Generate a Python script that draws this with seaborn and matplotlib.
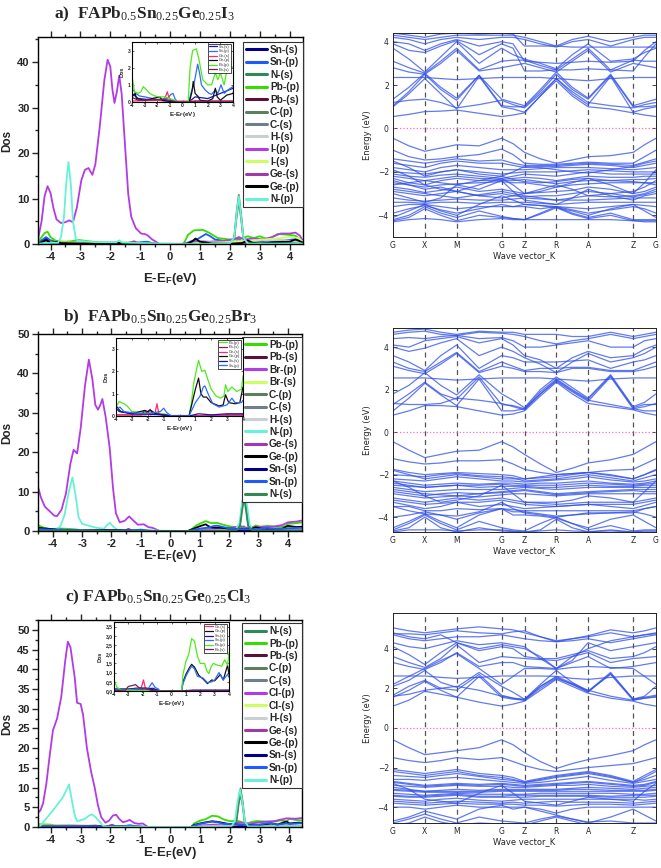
import numpy as np
import pandas as pd
import matplotlib
matplotlib.use("Agg")
import matplotlib.pyplot as plt
import seaborn as sns
from matplotlib.ticker import MultipleLocator, FuncFormatter

sns.set_theme(style="ticks")
plt.rcParams["font.family"] = ["Liberation Sans", "DejaVu Sans"]
plt.rcParams["mathtext.fontset"] = "custom"
plt.rcParams["mathtext.rm"] = "Liberation Serif"
plt.rcParams["mathtext.sf"] = "Liberation Sans:bold"
plt.rcParams["mathtext.default"] = "rm"

# ---------------- DOS data: (E - EF, DOS) pairs ----------------
# a) iodide
A_IP = [(-4.42,1.0),(-4.3,5),(-4.2,10.5),(-4.1,12.7),(-4.0,11.2),(-3.9,7.8),(-3.8,5.4),(-3.65,4.6),(-3.5,4.8),(-3.38,5.2),(-3.25,4.8),(-3.12,8),(-2.97,14),(-2.85,16.3),(-2.73,16.7),(-2.6,15.2),(-2.5,17.5),(-2.35,26),(-2.2,36),(-2.09,40.5),(-2.0,39),(-1.93,34),(-1.86,31),(-1.78,33.5),(-1.7,37),(-1.62,33),(-1.5,21),(-1.4,11),(-1.3,6),(-1.15,3.5),(-0.97,2.3),(-0.85,2.2),(-0.75,1.9),(-0.6,1.0),(-0.47,0.5),(-0.36,0.0),(0.4,0.0),(0.7,0.4),(1.0,0.6),(1.3,0.5),(1.8,0.7),(2.1,1.0),(2.3,1.5),(2.5,1.0),(2.8,1.2),(3.1,1.0),(3.4,1.5),(3.7,2.3),(4.0,2.3),(4.2,2.5),(4.35,1.8),(4.45,0.6)]
A_NP = [(-4.42,0.1),(-3.75,0.3),(-3.65,1.5),(-3.55,6),(-3.48,13),(-3.4,18),(-3.32,13),(-3.25,5),(-3.15,1.0),(-3.05,0.7),(-2.5,0.4),(-1.8,0.4),(-1.7,0.8),(-1.6,0.3),(-0.4,0.1),(0.4,0.0),(2.0,0.1),(2.15,1.5),(2.22,6),(2.3,10.5),(2.38,6),(2.45,1.5),(2.6,0.1),(4.45,0.1)]
A_PBP = [(-4.42,0.5),(-4.3,1.5),(-4.2,2.4),(-4.1,2.7),(-4.0,1.5),(-3.8,0.6),(-3.5,0.5),(-3.3,0.6),(-3.1,0.9),(-2.9,0.75),(-2.6,0.5),(-2.2,0.35),(-1.8,0.3),(-1.4,0.3),(-1.0,0.2),(-0.6,0.1),(-0.4,0.0),(0.45,0.0),(0.6,2.0),(0.8,3.0),(1.1,3.1),(1.3,2.5),(1.6,1.3),(2.0,1.0),(2.3,1.0),(2.6,1.7),(2.8,1.3),(3.0,1.7),(3.3,1.0),(3.6,2.2),(4.0,2.0),(4.2,1.8),(4.45,0.5)]
A_SNP = [(-4.42,0.3),(-4.15,1.5),(-4.0,0.8),(-3.7,0.5),(-3.4,0.35),(-3.0,0.3),(-2.0,0.15),(-1.2,0.2),(-0.9,0.45),(-0.75,0.5),(-0.6,0.2),(-0.4,0.0),(0.5,0.0),(0.7,0.6),(0.9,1.0),(1.05,1.6),(1.2,2.2),(1.35,1.7),(1.5,1.0),(1.8,0.7),(2.1,0.5),(2.3,0.45),(2.6,0.7),(2.8,0.5),(3.05,1.0),(3.3,0.5),(3.6,0.7),(4.0,0.9),(4.2,1.1),(4.45,0.4)]
A_SNS = [(-4.42,0.2),(-4.15,1.2),(-4.0,0.5),(-3.5,0.2),(-2.0,0.1),(-0.4,0.0),(0.5,0.0),(1.0,0.3),(2.0,0.2),(3.0,0.5),(4.0,0.8),(4.45,0.3)]
A_GEP = [(-4.42,0.1),(-4.15,0.8),(-4.0,0.3),(-3.75,0.5),(-3.65,0.2),(-3.0,0.1),(-1.8,0.3),(-1.6,0.1),(-0.4,0.0),(0.55,0.0),(0.75,0.6),(0.85,1.2),(1.0,0.5),(1.2,0.35),(1.4,0.1),(2.0,0.05),(2.4,0.2),(2.6,0.8),(2.75,0.3),(3.0,0.1),(3.5,0.4),(4.0,0.5),(4.2,1.0),(4.45,0.3)]
A_GES = [(-4.42,0.05),(-1.5,0.1),(-1.3,0.4),(-1.2,0.6),(-1.1,0.3),(-0.9,0.05),(4.45,0.05)]
A_PBS = [(-4.42,0.1),(-4.1,0.3),(-3.5,0.1),(-1.5,0.15),(-1.0,0.1),(-0.4,0.0),(0.5,0.0),(1.0,0.05),(4.45,0.05)]
A_CP = [(-4.42,0.2),(-4.1,0.4),(-3.4,0.3),(-0.4,0.0),(0.5,0.0),(2.0,0.1),(2.15,1.5),(2.22,6.5),(2.3,10.8),(2.38,6.5),(2.45,1.5),(2.6,0.1),(4.45,0.1)]
A_NS = [(-4.42,0.1),(-0.4,0.0),(0.5,0.0),(2.0,0.1),(2.15,1.3),(2.22,5.5),(2.3,9.5),(2.38,5.5),(2.45,1.3),(2.6,0.1),(4.45,0.1)]
A_CS = [(-4.42,0.1),(-0.4,0.0),(0.5,0.0),(2.2,0.1),(2.3,1.5),(2.4,0.1),(3.5,0.3),(4.45,0.2)]
A_HS = [(-4.42,0.05),(-3.4,0.3),(-0.4,0.0),(0.5,0.0),(2.3,0.6),(3.8,0.9),(4.45,0.3)]
A_IS = [(-4.42,0.2),(-4.1,0.5),(-3.0,0.2),(-0.4,0.0),(0.5,0.0),(1.0,0.3),(2.0,0.4),(2.8,0.8),(3.5,1.2),(4.0,1.5),(4.3,1.3),(4.45,0.5)]

# b) bromide
B_BRP = [(-4.5,11.2),(-4.4,8.5),(-4.27,6.2),(-4.1,5.0),(-3.95,3.9),(-3.85,3.8),(-3.7,5.4),(-3.55,9.5),(-3.4,17),(-3.29,20.6),(-3.17,19.7),(-3.05,26),(-2.9,37),(-2.77,43.5),(-2.65,38.5),(-2.55,32),(-2.46,30.8),(-2.38,32),(-2.31,33.5),(-2.2,29),(-2.06,21),(-1.95,11),(-1.85,4.5),(-1.72,2.2),(-1.55,2.6),(-1.4,3.7),(-1.25,2.6),(-1.1,1.6),(-0.9,1.7),(-0.75,1.0),(-0.6,0.8),(-0.45,0.3),(-0.36,0.0),(0.6,0.0),(0.9,0.3),(1.5,0.6),(2.0,0.7),(2.4,1.2),(2.6,0.8),(3.0,1.0),(3.5,1.1),(3.8,1.5),(4.0,2.2),(4.3,2.4),(4.5,2.7)]
B_NP = [(-4.5,0.3),(-3.9,0.3),(-3.75,1.0),(-3.6,4.0),(-3.45,10),(-3.33,13.6),(-3.22,9),(-3.12,3.5),(-3.0,1.8),(-2.8,1.4),(-2.5,0.8),(-2.25,0.6),(-2.15,1.5),(-2.06,2.1),(-1.95,1.2),(-1.8,0.3),(-0.4,0.1),(0.5,0.0),(2.2,0.1),(2.35,2.0),(2.45,7.5),(2.53,10),(2.6,7),(2.7,1.5),(2.85,0.1),(4.5,0.1)]
B_PBP = [(-4.5,1.5),(-4.3,0.8),(-4.0,0.4),(-3.8,0.65),(-3.5,0.55),(-3.3,0.45),(-3.0,0.2),(-2.0,0.15),(-1.0,0.1),(-0.5,0.0),(0.6,0.0),(0.75,0.6),(0.9,1.5),(1.05,2.0),(1.2,2.5),(1.4,2.0),(1.6,2.05),(1.8,1.6),(2.0,1.2),(2.3,0.9),(2.6,0.8),(2.8,0.9),(2.9,1.4),(3.05,1.1),(3.3,1.3),(3.6,1.1),(3.9,1.2),(4.0,1.8),(4.3,2.0),(4.5,2.2)]
B_GEP = [(-4.5,0.8),(-4.0,0.45),(-3.7,0.2),(-3.0,0.1),(-2.2,0.25),(-2.0,0.2),(-1.8,0.25),(-1.5,0.1),(-0.5,0.0),(0.6,0.0),(0.8,0.6),(1.0,1.2),(1.2,1.7),(1.35,1.0),(1.5,0.85),(1.7,0.85),(2.0,0.6),(2.5,0.45),(2.75,0.5),(2.9,0.95),(3.1,0.6),(3.5,0.55),(3.8,0.6),(4.0,1.3),(4.3,1.0),(4.5,1.1)]
B_SNP = [(-4.5,0.5),(-4.0,0.3),(-3.75,0.4),(-3.5,0.2),(-3.0,0.15),(-2.0,0.1),(-1.2,0.2),(-1.0,0.35),(-0.8,0.15),(-0.5,0.0),(0.6,0.0),(0.8,0.3),(1.0,0.6),(1.3,0.9),(1.5,1.3),(1.6,1.35),(1.8,1.0),(2.1,0.55),(2.5,0.4),(3.0,0.5),(3.3,0.8),(3.5,0.6),(3.9,0.6),(4.0,0.7),(4.5,0.8)]
B_SNS = [(-4.5,0.6),(-4.0,0.35),(-3.8,0.2),(-3.0,0.1),(-1.0,0.05),(-0.5,0.0),(0.6,0.0),(1.2,0.1),(2.0,0.05),(3.0,0.1),(4.5,0.1)]
B_GES = [(-4.5,0.05),(-2.1,0.05),(-2.0,0.2),(-1.85,0.05),(-1.55,0.1),(-1.42,0.55),(-1.3,0.1),(-1.0,0.02),(4.5,0.02)]
B_PBS = [(-4.5,0.05),(-2.4,0.05),(-2.2,0.25),(-2.05,0.15),(-1.85,0.3),(-1.7,0.1),(-0.5,0.0),(0.6,0.0),(3.0,0.05),(4.5,0.05)]
B_BRS = [(-4.5,0.3),(-3.5,0.2),(-0.5,0.0),(0.6,0.0),(2.0,0.3),(3.5,0.6),(4.5,0.9)]
B_CP = [(-4.5,0.3),(-3.3,0.3),(-0.5,0.0),(0.6,0.0),(2.25,0.1),(2.37,1.5),(2.44,6.5),(2.51,10.3),(2.58,6.5),(2.65,1.5),(2.8,0.1),(4.5,0.1)]
B_NS = [(-4.5,0.1),(-0.5,0.0),(0.6,0.0),(2.25,0.1),(2.37,1.2),(2.44,5),(2.51,8.5),(2.58,5),(2.65,1.2),(2.8,0.1),(4.5,0.1)]
B_CS = [(-4.5,0.1),(-0.5,0.0),(0.6,0.0),(2.4,0.1),(2.5,1.2),(2.6,0.1),(4.5,0.3)]
B_HS = [(-4.5,0.1),(-3.3,0.3),(-0.5,0.0),(0.6,0.0),(2.5,0.5),(4.5,0.4)]

# c) chloride
C_CLP = [(-4.45,3.5),(-4.35,4.2),(-4.26,6),(-4.15,11),(-4.04,18),(-3.93,24.5),(-3.79,27.5),(-3.65,33),(-3.52,42),(-3.43,47),(-3.34,45.5),(-3.2,38),(-3.12,31.5),(-3.0,31.2),(-2.92,28.5),(-2.79,20),(-2.65,14),(-2.53,10),(-2.42,5.5),(-2.31,2.5),(-2.17,1.1),(-2.05,1.6),(-1.92,2.9),(-1.81,3.1),(-1.7,2.0),(-1.58,1.2),(-1.45,1.5),(-1.36,1.8),(-1.2,1.0),(-1.05,0.8),(-0.92,0.9),(-0.82,0.4),(-0.75,0.0),(0.75,0.0),(1.0,0.4),(1.5,0.6),(2.0,0.7),(2.3,1.1),(2.6,0.8),(3.0,1.2),(3.5,1.5),(3.9,2.2),(4.2,2.1),(4.45,2.3)]
C_NP = [(-4.45,0.0),(-4.35,0.3),(-4.15,2.2),(-3.95,4.0),(-3.82,5.3),(-3.6,7.5),(-3.47,9.5),(-3.39,10.8),(-3.3,7),(-3.2,3.0),(-3.12,1.5),(-3.0,1.7),(-2.87,2.0),(-2.72,2.9),(-2.62,3.2),(-2.5,2.5),(-2.38,1.5),(-2.25,0.3),(-2.1,0.1),(-0.8,0.05),(0.7,0.0),(2.05,0.1),(2.17,1.5),(2.26,6.5),(2.34,9.5),(2.42,6.5),(2.5,1.5),(2.62,0.1),(4.45,0.1)]
C_PBP = [(-4.45,0.7),(-4.0,0.6),(-3.8,0.2),(-3.5,0.05),(-2.0,0.03),(-0.8,0.0),(0.7,0.0),(0.8,0.9),(1.0,1.6),(1.2,2.0),(1.4,2.85),(1.6,2.7),(1.8,1.9),(2.0,1.5),(2.3,1.5),(2.45,1.1),(2.6,0.95),(2.75,1.3),(2.9,1.5),(3.2,1.4),(3.5,1.35),(3.7,1.7),(3.9,1.4),(4.0,2.1),(4.2,1.8),(4.45,1.6)]
C_GEP = [(-4.45,0.1),(-3.0,0.1),(-2.5,0.15),(-1.8,0.15),(-1.5,0.1),(-0.8,0.0),(0.7,0.0),(0.8,0.5),(1.0,0.9),(1.2,1.2),(1.4,1.45),(1.6,1.3),(1.9,0.85),(2.2,0.65),(2.5,0.4),(2.8,0.6),(3.0,0.55),(3.4,0.9),(3.6,0.6),(3.9,1.4),(4.0,0.9),(4.3,1.1),(4.45,1.0)]
C_SNP = [(-4.45,0.15),(-4.0,0.1),(-3.0,0.08),(-1.6,0.15),(-1.35,0.45),(-1.15,0.2),(-0.9,0.1),(-0.8,0.0),(0.7,0.0),(0.8,0.4),(1.0,0.8),(1.2,1.1),(1.4,1.35),(1.6,1.2),(1.8,0.8),(2.2,0.7),(2.5,0.45),(2.8,0.5),(3.0,0.6),(3.3,1.0),(3.6,0.6),(3.9,0.9),(4.0,0.75),(4.45,1.0)]
C_SNS = [(-4.45,0.12),(-4.0,0.1),(-2.0,0.1),(-1.3,0.15),(-0.8,0.0),(0.7,0.0),(1.5,0.05),(3.0,0.05),(4.45,0.05)]
C_GES = [(-4.45,0.02),(-2.15,0.05),(-1.95,0.6),(-1.8,0.1),(-1.5,0.02),(4.45,0.02)]
C_PBS = [(-4.45,0.02),(-3.2,0.05),(-3.0,0.25),(-2.7,0.3),(-2.5,0.35),(-2.3,0.2),(-2.1,0.15),(-1.7,0.15),(-1.5,0.05),(-0.8,0.0),(4.45,0.03)]
C_CLS = [(-4.45,0.4),(-3.5,0.3),(-0.8,0.0),(0.7,0.0),(2.0,0.3),(3.5,0.8),(4.45,1.0)]
C_CP = [(-4.45,0.3),(-3.4,0.4),(-0.8,0.0),(0.7,0.0),(2.1,0.1),(2.22,1.5),(2.29,6.5),(2.36,9.8),(2.43,6.5),(2.5,1.5),(2.62,0.1),(4.45,0.1)]
C_NS = [(-4.45,0.1),(-0.8,0.0),(0.7,0.0),(2.1,0.1),(2.22,1.2),(2.29,5.5),(2.36,8.5),(2.43,5.5),(2.5,1.2),(2.62,0.1),(4.45,0.1)]
C_CS = [(-4.45,0.1),(-0.8,0.0),(0.7,0.0),(2.25,0.1),(2.36,1.2),(2.47,0.1),(4.45,0.3)]
C_HS = [(-4.45,0.1),(-3.4,0.3),(-0.8,0.0),(0.7,0.0),(2.36,0.6),(4.45,0.4)]

# ---------------- band data: energies at G, mid, X, mid, M, mid, G, mid, Z, mid, R, mid, A, mid, Z, mid, G ----------------
K_SEG = [1.0, 1.0, 1.414, 0.72, 1.0, 1.0, 1.414, 0.72]
K_LABELS = ["G", "X", "M", "G", "Z", "R", "A", "Z", "G"]

BAND_A = [
    [0.55,0.65,0.78,0.8,0.85,0.7,0.55,0.62,0.72,1.5,2.2,1.5,1.0,0.9,0.72,0.62,0.55],
    [1.0,1.6,2.3,1.6,0.9,2.4,1.0,0.9,0.75,1.5,2.3,1.6,1.1,2.4,0.75,0.9,1.0],
    [1.05,1.7,2.5,1.8,1.3,2.45,1.05,1.0,1.0,1.7,2.5,1.8,1.35,2.45,1.0,1.0,1.05],
    [1.35,1.9,2.55,1.9,1.4,2.45,1.35,1.2,1.05,1.8,2.6,1.9,1.4,2.5,1.05,1.2,1.35],
    [1.2,1.3,1.35,1.2,0.95,1.1,1.3,1.1,0.95,1.6,2.3,1.7,1.2,1.05,0.95,1.1,1.2],
    [2.35,2.35,2.35,2.3,2.25,2.3,2.35,2.35,2.35,2.35,2.3,2.25,2.2,2.3,2.35,2.35,2.35],
    [2.8,2.6,2.5,3.0,3.6,2.65,2.8,2.9,3.0,2.8,2.6,3.1,3.6,2.6,3.0,2.9,2.8],
    [3.1,2.8,2.55,3.1,3.7,2.7,3.1,3.15,3.15,2.9,2.7,3.2,3.7,2.7,3.15,3.1,3.1],
    [3.7,3.2,2.6,3.3,4.0,3.0,3.7,3.4,3.2,3.0,2.75,3.4,3.9,3.1,3.2,3.5,3.7],
    [3.9,3.6,3.5,3.8,4.05,3.4,3.9,3.7,2.65,2.65,2.7,2.7,2.75,2.7,2.65,3.3,3.9],
    [4.0,3.9,3.6,3.9,4.1,3.8,4.0,3.9,3.1,3.05,3.0,3.05,3.1,3.05,3.1,3.6,4.0],
    [4.2,4.1,3.9,4.1,4.2,4.1,4.2,4.2,4.1,3.9,3.75,4.0,4.1,3.8,4.1,4.2,4.2],
    [4.3,4.2,4.1,4.2,4.3,4.3,4.3,4.3,4.2,4.0,3.8,4.1,4.25,4.0,4.2,4.3,4.3],
    [4.4,4.3,4.2,4.35,4.4,4.35,4.4,4.35,3.8,3.8,3.8,3.75,3.75,3.75,3.75,3.75,3.75],
    [-0.45,-0.8,-1.05,-0.9,-0.75,-0.8,-0.45,-0.7,-1.1,-1.4,-1.6,-1.45,-1.3,-1.25,-1.1,-0.75,-0.45],
    [-1.0,-1.3,-1.45,-1.4,-1.3,-1.2,-0.95,-1.2,-1.6,-1.65,-1.65,-1.6,-1.55,-1.6,-1.6,-1.3,-1.0],
    [-1.4,-1.5,-1.6,-1.5,-1.4,-1.5,-1.45,-1.6,-1.7,-1.7,-1.7,-1.65,-1.6,-1.65,-1.7,-1.55,-1.4],
    [-1.6,-1.7,-1.8,-1.6,-1.5,-1.6,-1.6,-1.7,-1.8,-1.75,-1.75,-1.7,-1.65,-1.7,-1.8,-1.7,-1.6],
    [-1.8,-1.9,-2.0,-1.8,-1.7,-1.8,-1.9,-1.9,-1.9,-1.85,-1.8,-1.8,-1.8,-1.85,-1.9,-1.85,-1.8],
    [-1.5,-1.8,-2.2,-2.0,-1.9,-2.1,-2.2,-2.0,-1.75,-1.8,-1.9,-2.0,-2.05,-1.9,-1.75,-1.6,-1.5],
    [-2.0,-2.05,-2.1,-2.0,-1.9,-2.0,-2.1,-2.05,-2.0,-2.0,-2.0,-1.95,-1.9,-1.95,-2.0,-2.0,-2.0],
    [-2.1,-2.2,-2.25,-2.15,-2.1,-2.2,-2.3,-2.2,-2.1,-2.15,-2.2,-2.1,-2.0,-2.1,-2.1,-2.1,-2.1],
    [-2.2,-2.3,-2.4,-2.3,-2.2,-2.3,-2.35,-2.3,-2.25,-2.3,-2.4,-2.3,-2.2,-2.25,-2.25,-2.2,-2.2],
    [-2.3,-2.5,-2.6,-2.4,-2.3,-2.4,-2.4,-2.4,-2.35,-2.45,-2.55,-2.45,-2.4,-2.4,-2.35,-2.35,-2.3],
    [-2.5,-2.6,-2.7,-2.6,-2.55,-2.5,-2.45,-2.5,-2.5,-2.6,-2.7,-2.6,-2.55,-2.5,-2.5,-2.5,-2.5],
    [-2.6,-2.5,-2.4,-2.5,-2.6,-2.4,-2.2,-2.35,-2.45,-2.5,-2.45,-2.35,-2.3,-2.4,-2.45,-2.5,-2.6],
    [-2.7,-2.8,-2.95,-2.85,-2.7,-2.9,-2.8,-2.9,-3.0,-2.95,-2.9,-2.85,-2.7,-2.8,-3.0,-2.9,-2.7],
    [-2.9,-3.0,-3.1,-3.0,-2.9,-3.1,-3.0,-3.1,-3.15,-3.1,-3.1,-3.0,-2.9,-3.0,-3.15,-3.05,-2.9],
    [-2.8,-2.9,-3.0,-3.1,-3.2,-3.05,-2.9,-3.0,-3.1,-3.2,-3.3,-3.2,-3.1,-3.15,-3.1,-3.0,-2.8],
    [-3.0,-3.2,-3.4,-3.2,-2.6,-2.8,-2.4,-2.9,-3.3,-3.4,-3.5,-3.2,-2.8,-3.1,-3.3,-3.1,-3.0],
    [-1.9,-2.2,-2.6,-2.8,-2.9,-2.6,-2.3,-2.6,-3.0,-2.9,-2.7,-2.5,-2.3,-2.6,-3.0,-2.5,-1.9],
    [-2.4,-2.6,-2.8,-2.7,-2.9,-3.1,-3.2,-3.1,-3.0,-2.8,-2.6,-2.8,-3.1,-3.0,-2.9,-2.7,-2.4],
    [-3.2,-3.3,-3.35,-3.3,-3.25,-3.3,-3.3,-3.25,-3.2,-3.25,-3.3,-3.3,-3.3,-3.25,-3.2,-3.2,-3.2],
    [-3.4,-3.4,-3.45,-3.4,-3.4,-3.45,-3.4,-3.4,-3.4,-3.45,-3.5,-3.45,-3.4,-3.4,-3.4,-3.4,-3.4],
    [-3.6,-3.5,-3.5,-3.6,-3.7,-3.6,-3.6,-3.6,-3.5,-3.55,-3.6,-3.65,-3.7,-3.6,-3.5,-3.55,-3.6],
    [-3.9,-3.7,-3.55,-3.75,-3.9,-3.7,-3.5,-3.6,-3.6,-3.7,-3.6,-3.75,-3.9,-3.75,-3.6,-3.7,-3.9],
    [-4.1,-3.8,-3.5,-3.8,-4.0,-3.5,-3.1,-3.3,-3.5,-3.55,-3.65,-3.8,-4.0,-3.7,-3.5,-3.8,-4.1],
    [-4.2,-4.0,-3.6,-3.9,-4.1,-3.8,-4.05,-4.15,-4.2,-3.9,-3.6,-3.9,-4.1,-3.9,-4.2,-4.2,-4.2],
    [-4.3,-4.2,-4.15,-4.2,-4.3,-4.2,-4.15,-4.2,-4.2,-4.2,-4.2,-4.2,-4.2,-4.2,-4.25,-4.3,-4.3],
    [-4.25,-4.1,-3.7,-4.0,-4.25,-4.0,-4.1,-4.15,-4.2,-3.95,-3.65,-3.95,-4.15,-4.0,-4.25,-4.25,-4.25],
]

BAND_B = [
    [0.8,1.0,1.25,1.25,1.2,1.0,0.8,0.85,1.0,1.7,2.35,1.8,1.35,1.2,1.05,0.9,0.8],
    [1.0,1.6,2.3,1.75,1.25,2.5,1.0,1.0,1.1,1.8,2.4,1.9,1.45,2.6,1.1,1.0,1.0],
    [1.3,1.8,2.35,1.8,1.55,2.6,1.3,1.25,1.1,1.9,2.5,2.0,1.55,2.65,1.15,1.3,1.3],
    [1.35,1.3,1.3,1.35,1.6,1.5,1.35,1.2,1.05,1.8,2.45,1.95,1.5,1.3,1.1,1.2,1.35],
    [1.8,2.2,2.8,2.2,1.75,2.7,1.8,1.5,1.15,2.0,2.6,2.1,1.6,2.7,1.2,1.4,1.8],
    [2.55,2.55,2.55,2.5,2.45,2.5,2.55,2.55,2.55,2.55,2.5,2.45,2.4,2.5,2.55,2.55,2.55],
    [3.1,2.9,2.75,3.2,3.7,2.8,3.1,3.0,2.85,2.85,2.8,3.0,3.0,2.85,2.85,2.95,3.1],
    [3.3,3.0,2.85,3.3,3.75,2.85,3.3,3.1,2.9,3.0,3.0,3.05,3.05,2.9,2.9,3.1,3.3],
    [3.6,3.3,2.9,3.6,4.1,3.0,3.6,3.5,3.3,3.3,3.3,3.35,3.4,3.0,3.3,3.4,3.6],
    [4.0,3.8,3.95,4.2,4.4,3.6,4.0,3.8,3.5,3.2,2.8,3.3,3.7,3.3,3.5,3.7,4.0],
    [4.1,4.0,4.3,4.4,4.5,4.2,4.4,4.1,3.6,3.4,3.0,3.5,3.8,3.5,3.6,3.9,4.1],
    [4.4,4.45,4.4,4.5,4.55,4.4,4.45,4.3,4.0,4.0,4.1,4.2,4.3,4.0,4.0,4.3,4.4],
    [4.6,4.7,4.75,4.6,4.55,4.7,4.65,4.6,4.5,4.3,4.15,4.3,4.4,4.6,4.4,4.5,4.6],
    [4.7,4.8,4.85,4.7,4.6,4.75,4.7,4.7,4.6,4.6,4.6,4.5,4.5,4.7,4.5,4.6,4.7],
    [-0.45,-0.85,-1.2,-1.05,-0.9,-0.85,-0.45,-0.7,-1.05,-1.5,-1.9,-1.7,-1.45,-1.3,-1.05,-0.75,-0.45],
    [-1.25,-1.4,-1.5,-1.45,-1.35,-1.35,-1.3,-1.5,-1.75,-1.9,-2.0,-1.95,-1.9,-1.8,-1.75,-1.5,-1.25],
    [-1.75,-1.9,-2.0,-1.95,-1.9,-1.95,-2.0,-2.05,-2.2,-2.15,-2.1,-2.0,-1.9,-2.05,-2.2,-2.0,-1.75],
    [-1.8,-2.0,-2.2,-2.1,-2.0,-2.1,-2.2,-2.2,-2.2,-2.1,-2.0,-1.95,-1.9,-2.0,-2.2,-2.0,-1.8],
    [-2.0,-2.05,-2.1,-2.0,-1.95,-2.05,-2.1,-2.15,-2.3,-2.25,-2.2,-2.1,-2.0,-2.15,-2.3,-2.15,-2.0],
    [-2.2,-2.25,-2.3,-2.2,-2.1,-2.2,-2.3,-2.3,-2.35,-2.3,-2.25,-2.2,-2.1,-2.25,-2.35,-2.3,-2.2],
    [-2.3,-2.4,-2.5,-2.45,-2.4,-2.45,-2.4,-2.4,-2.45,-2.4,-2.4,-2.35,-2.3,-2.4,-2.45,-2.4,-2.3],
    [-2.4,-2.5,-2.6,-2.55,-2.5,-2.5,-2.45,-2.5,-2.5,-2.5,-2.5,-2.45,-2.4,-2.45,-2.5,-2.45,-2.4],
    [-2.5,-2.55,-2.6,-2.55,-2.5,-2.6,-2.55,-2.55,-2.55,-2.6,-2.6,-2.55,-2.5,-2.55,-2.55,-2.5,-2.5],
    [-2.6,-2.7,-2.8,-2.75,-2.7,-2.7,-2.7,-2.65,-2.6,-2.65,-2.7,-2.65,-2.6,-2.6,-2.6,-2.6,-2.6],
    [-2.7,-2.8,-2.9,-2.95,-3.0,-2.9,-2.8,-2.75,-2.7,-2.8,-2.9,-2.85,-2.8,-2.75,-2.7,-2.7,-2.7],
    [-2.8,-2.9,-3.0,-2.9,-2.85,-2.9,-2.85,-2.8,-2.75,-2.85,-2.95,-2.9,-2.85,-2.8,-2.75,-2.8,-2.8],
    [-2.9,-3.0,-3.1,-3.05,-3.0,-3.05,-2.95,-2.9,-2.9,-2.95,-3.0,-2.95,-2.9,-2.9,-2.9,-2.9,-2.9],
    [-2.3,-2.6,-3.0,-3.3,-3.2,-3.0,-2.5,-2.9,-3.3,-3.3,-3.3,-3.2,-3.0,-3.1,-3.3,-2.8,-2.3],
    [-3.1,-3.2,-3.3,-3.2,-3.1,-3.2,-3.1,-3.2,-3.3,-3.35,-3.4,-3.35,-3.3,-3.3,-3.3,-3.2,-3.1],
    [-3.2,-3.3,-3.4,-3.35,-3.3,-3.3,-3.2,-3.3,-3.4,-3.45,-3.5,-3.45,-3.4,-3.4,-3.4,-3.3,-3.2],
    [-3.3,-3.45,-3.6,-3.5,-3.3,-3.5,-3.4,-3.5,-3.6,-3.55,-3.5,-3.45,-3.4,-3.5,-3.6,-3.45,-3.3],
    [-3.5,-3.5,-3.7,-3.7,-3.6,-3.65,-3.6,-3.65,-3.7,-3.7,-3.7,-3.7,-3.7,-3.7,-3.7,-3.6,-3.5],
    [-3.5,-3.7,-3.85,-3.9,-3.95,-3.75,-3.3,-3.6,-3.8,-3.9,-4.0,-3.9,-3.8,-3.8,-3.8,-3.6,-3.5],
    [-4.0,-3.9,-3.75,-3.9,-4.1,-3.8,-3.6,-3.75,-3.75,-3.85,-3.95,-3.9,-3.85,-3.8,-3.75,-3.85,-4.0],
    [-4.5,-4.2,-3.85,-4.2,-4.5,-3.9,-3.6,-3.9,-3.9,-3.95,-4.05,-4.3,-4.5,-4.1,-3.9,-4.2,-4.5],
    [-4.6,-4.3,-3.9,-4.3,-4.6,-4.2,-4.5,-4.6,-4.65,-4.3,-4.0,-4.3,-4.6,-4.4,-4.65,-4.6,-4.6],
    [-4.7,-4.6,-4.6,-4.6,-4.65,-4.6,-4.6,-4.65,-4.7,-4.6,-4.1,-4.5,-4.7,-4.6,-4.7,-4.7,-4.7],
    [-4.65,-4.5,-4.0,-4.5,-4.7,-4.5,-4.65,-4.68,-4.7,-4.65,-4.6,-4.65,-4.68,-4.65,-4.7,-4.65,-4.65],
]

BAND_C = [
    [1.1,1.4,1.85,1.7,1.55,1.3,1.1,1.2,1.35,1.9,2.45,2.1,1.75,1.5,1.35,1.2,1.1],
    [1.55,1.9,2.35,1.9,1.55,2.6,1.55,1.45,1.4,2.0,2.5,2.2,1.85,2.7,1.4,1.5,1.55],
    [1.6,1.7,1.9,2.0,2.1,1.9,1.6,1.5,1.4,2.1,2.6,2.25,1.9,1.6,1.4,1.5,1.6],
    [1.65,2.1,2.4,2.0,1.9,2.7,1.65,1.5,1.45,2.1,2.55,2.2,1.8,2.75,1.45,1.55,1.65],
    [2.1,2.4,2.9,2.3,2.05,2.8,2.1,1.8,1.45,2.2,2.9,2.3,1.85,2.8,1.45,1.6,2.1],
    [2.62,2.62,2.62,2.55,2.5,2.55,2.62,2.62,2.62,2.62,2.6,2.5,2.45,2.55,2.62,2.62,2.62],
    [2.2,2.6,3.0,3.4,3.75,3.0,2.2,2.6,3.0,3.0,2.95,3.05,3.1,3.05,3.0,2.6,2.2],
    [3.3,3.1,2.95,3.3,3.8,3.1,3.3,3.3,3.1,3.05,3.0,3.3,3.6,3.0,3.1,3.2,3.3],
    [3.6,3.3,3.05,3.5,4.2,3.3,3.6,3.55,3.5,3.45,3.4,3.6,3.8,3.3,3.5,3.55,3.6],
    [4.1,3.7,3.2,3.8,4.3,3.9,4.1,4.0,3.6,3.5,3.5,3.7,3.9,3.5,3.6,3.8,4.1],
    [4.3,4.1,4.0,4.2,4.4,4.2,4.3,4.2,4.1,3.5,3.0,3.4,4.3,3.9,4.1,4.2,4.3],
    [4.7,4.5,4.4,4.5,4.6,4.6,4.7,4.6,4.5,4.4,4.35,4.4,4.5,4.3,4.5,4.6,4.7],
    [4.75,4.75,4.7,4.8,4.9,4.8,4.75,4.85,4.9,4.6,4.35,4.5,4.6,4.8,4.6,4.7,4.75],
    [5.05,4.9,4.8,4.9,5.0,5.1,5.0,4.95,4.8,4.6,4.4,4.5,4.65,4.95,4.8,4.9,5.05],
    [4.8,4.6,4.5,4.7,4.3,4.0,4.2,4.1,4.0,3.6,3.0,3.6,4.0,4.4,4.6,4.7,4.8],
    [-0.6,-1.0,-1.35,-1.25,-1.15,-1.0,-0.6,-0.85,-1.25,-1.7,-2.05,-1.8,-1.6,-1.4,-1.15,-0.85,-0.6],
    [-1.5,-1.65,-1.75,-1.65,-1.5,-1.6,-1.5,-1.7,-1.9,-2.1,-2.2,-2.1,-2.0,-1.9,-1.8,-1.65,-1.5],
    [-2.1,-2.2,-2.3,-2.2,-2.1,-2.3,-2.4,-2.5,-2.7,-2.55,-2.4,-2.3,-2.2,-2.4,-2.7,-2.4,-2.1],
    [-2.2,-2.3,-2.4,-2.3,-2.2,-2.4,-2.5,-2.6,-2.75,-2.6,-2.45,-2.35,-2.25,-2.45,-2.75,-2.5,-2.2],
    [-2.4,-2.45,-2.5,-2.4,-2.3,-2.45,-2.6,-2.65,-2.75,-2.65,-2.5,-2.4,-2.3,-2.5,-2.75,-2.6,-2.4],
    [-2.6,-2.6,-2.65,-2.55,-2.5,-2.6,-2.7,-2.75,-2.8,-2.75,-2.65,-2.55,-2.45,-2.65,-2.8,-2.7,-2.6],
    [-2.7,-2.8,-2.9,-2.85,-2.8,-2.85,-2.8,-2.85,-2.9,-2.85,-2.8,-2.75,-2.7,-2.8,-2.9,-2.85,-2.7],
    [-2.75,-2.85,-2.95,-2.9,-2.85,-2.9,-2.85,-2.9,-2.95,-2.9,-2.85,-2.8,-2.75,-2.85,-2.95,-2.9,-2.75],
    [-2.9,-2.95,-3.0,-2.95,-2.9,-2.95,-2.95,-3.0,-3.0,-2.95,-2.9,-2.9,-2.85,-2.95,-3.0,-2.95,-2.9],
    [-3.0,-3.1,-3.2,-3.15,-3.1,-3.15,-3.1,-3.1,-3.1,-3.1,-3.1,-3.05,-3.0,-3.05,-3.1,-3.05,-3.0],
    [-3.1,-3.15,-3.2,-3.2,-3.2,-3.2,-3.15,-3.15,-3.15,-3.15,-3.15,-3.1,-3.1,-3.15,-3.15,-3.15,-3.1],
    [-3.15,-3.2,-3.25,-3.25,-3.25,-3.25,-3.2,-3.2,-3.2,-3.2,-3.2,-3.2,-3.2,-3.2,-3.2,-3.2,-3.15],
    [-3.3,-3.35,-3.4,-3.35,-3.3,-3.35,-3.35,-3.35,-3.35,-3.3,-3.3,-3.3,-3.3,-3.3,-3.35,-3.35,-3.3],
    [-3.4,-3.45,-3.45,-3.4,-3.35,-3.45,-3.45,-3.4,-3.4,-3.4,-3.4,-3.4,-3.4,-3.45,-3.4,-3.4,-3.4],
    [-3.45,-3.5,-3.5,-3.45,-3.4,-3.5,-3.5,-3.5,-3.5,-3.45,-3.45,-3.45,-3.45,-3.5,-3.5,-3.5,-3.45],
    [-3.6,-3.65,-3.7,-3.6,-3.55,-3.65,-3.7,-3.65,-3.6,-3.6,-3.6,-3.6,-3.6,-3.6,-3.6,-3.65,-3.6],
    [-3.7,-3.75,-3.8,-3.75,-3.7,-3.75,-3.8,-3.75,-3.8,-3.75,-3.7,-3.75,-3.75,-3.75,-3.8,-3.75,-3.7],
    [-2.8,-3.1,-3.6,-3.7,-3.8,-3.3,-2.9,-3.3,-3.7,-3.8,-3.9,-3.7,-3.5,-3.6,-3.7,-3.2,-2.8],
    [-3.8,-3.85,-3.9,-3.85,-3.8,-3.85,-3.85,-3.85,-3.9,-3.9,-3.95,-3.9,-3.85,-3.85,-3.9,-3.85,-3.8],
    [-4.0,-4.0,-4.1,-4.0,-3.9,-4.0,-4.0,-4.0,-4.0,-4.1,-4.3,-4.1,-4.0,-4.0,-4.0,-4.0,-4.0],
    [-4.7,-4.5,-4.2,-4.4,-4.6,-4.1,-3.9,-4.1,-4.0,-4.2,-4.4,-4.6,-4.8,-4.5,-4.1,-4.4,-4.7],
    [-4.8,-4.6,-4.35,-4.6,-4.8,-4.5,-4.7,-4.75,-4.8,-4.6,-4.45,-4.6,-4.75,-4.7,-4.8,-4.8,-4.8],
    [-4.9,-4.8,-4.5,-4.75,-4.9,-4.8,-4.85,-4.9,-4.9,-4.7,-4.5,-4.7,-4.9,-4.85,-4.9,-4.9,-4.9],
]

COL = {"Sn-(s)": "#00008B", "Sn-(p)": "#1E5BFF", "N-(s)": "#2E8B57", "Pb-(p)": "#33DD00",
       "Pb-(s)": "#5A1038", "C-(p)": "#5E7F5E", "C-(s)": "#6E7F8A", "H-(s)": "#C8D0D0",
       "X-(p)": "#B23BE6", "X-(s)": "#CCFF66", "Ge-(s)": "#A03AA8", "Ge-(p)": "#000000",
       "N-(p)": "#66F2D5"}
INSET_COL = {"Sn-(s)": "#1515B0", "Sn-(p)": "#2F6BFF", "Ge-(s)": "#FF2A6A", "Ge-(p)": "#111111",
             "Pb-(p)": "#4CEB1A", "Pb-(s)": "#7A1F5C"}

K_POS = np.concatenate([[0.0], np.cumsum(np.repeat(K_SEG, 2) / 2)])

W, H = 661, 868
fig = plt.figure(figsize=(W / 100, H / 100), dpi=100)


def rect(l, t, r, b):
    return [l / W, 1 - b / H, (r - l) / W, (b - t) / H]


def color_of(lab):
    for key in ("I-", "Br-", "Cl-"):
        if lab.startswith(key):
            return COL["X-" + lab[len(key):]]
    return COL[lab]


def dos_panel(box, curves, xlim, ylim, ymaj, ymin, leg_top, xpad):
    ax = fig.add_axes(box)
    for lab, pts in curves:
        e, d = np.array(pts).T
        sns.lineplot(x=e, y=d, ax=ax, color=color_of(lab), lw=1.3, label=lab,
                     sort=False, estimator=None)
    ax.set_xlim(*xlim); ax.set_ylim(*ylim)
    ax.xaxis.set_major_locator(MultipleLocator(1)); ax.xaxis.set_minor_locator(MultipleLocator(0.5))
    ax.yaxis.set_major_locator(MultipleLocator(ymaj)); ax.yaxis.set_minor_locator(MultipleLocator(ymin))
    fmt = FuncFormatter(lambda v, p: f"{v:g}")
    ax.xaxis.set_major_formatter(fmt); ax.yaxis.set_major_formatter(fmt)
    ax.tick_params(which="both", direction="out", top=True, right=False, labelsize=8, width=1, pad=2)
    ax.tick_params(which="major", length=4); ax.tick_params(which="minor", length=2)
    plt.setp(ax.get_xticklabels() + ax.get_yticklabels(), fontweight="bold")
    for sp in ax.spines.values():
        sp.set_linewidth(1.0); sp.set_color("black")
    ax.set_ylabel("Dos", fontsize=8.5, fontweight="bold", labelpad=3)
    ax.set_xlabel(r"E-E$_\mathsf{F}$(eV)", fontsize=9.5, fontweight="bold", labelpad=xpad)
    leg = ax.legend(loc="upper right", bbox_to_anchor=(1.0, leg_top), borderaxespad=0,
                    labelspacing=0.24, handlelength=2.0, handletextpad=0.35,
                    borderpad=0.3, fancybox=False, framealpha=1, edgecolor="#333333",
                    prop={"weight": "bold", "size": 7.3})
    leg.get_frame().set_linewidth(0.8)
    for ln in leg.get_lines():
        ln.set_linewidth(2.2)
    leg.set_zorder(10)
    return ax


def inset_panel(box, curves, ylim, ystep, comma):
    ax = fig.add_axes(box)
    for lab, pts in curves:
        e, d = np.array(pts).T
        sns.lineplot(x=e, y=d, ax=ax, color=INSET_COL[lab], lw=0.9, label=lab,
                     sort=False, estimator=None)
    ax.set_xlim(-4, 4); ax.set_ylim(*ylim)
    ax.xaxis.set_major_locator(MultipleLocator(1))
    ax.yaxis.set_major_locator(MultipleLocator(ystep))
    if comma:
        ax.yaxis.set_major_formatter(FuncFormatter(lambda v, p: f"{v:.1f}".replace(".", ",")))
    else:
        ax.yaxis.set_major_formatter(FuncFormatter(lambda v, p: f"{v:g}"))
    ax.xaxis.set_major_formatter(FuncFormatter(lambda v, p: f"{v:g}"))
    ax.tick_params(direction="in", length=1.5, width=0.5, labelsize=3.6, pad=1, top=True, right=True)
    plt.setp(ax.get_xticklabels() + ax.get_yticklabels(), fontweight="bold")
    for sp in ax.spines.values():
        sp.set_linewidth(0.8); sp.set_color("black")
    ax.set_ylabel("Dos", fontsize=4, fontweight="bold", labelpad=2)
    ax.set_xlabel(r"E-E$_\mathsf{F}$(eV)", fontsize=4.5, fontweight="bold", labelpad=1.5)
    leg = ax.legend(loc="upper right", fontsize=2.8, labelspacing=0.15, handlelength=2.2,
                    handletextpad=0.4, borderpad=0.3, fancybox=False, framealpha=1,
                    edgecolor="black", borderaxespad=0.4)
    leg.get_frame().set_linewidth(0.5)
    return ax


def band_frame(bands):
    rows = [(b, k, e) for b, vals in enumerate(bands) for k, e in zip(K_POS, vals)]
    return pd.DataFrame(rows, columns=["band", "k", "E"])


def band_panel(box, bands, ylim, labels):
    ax = fig.add_axes(box)
    sns.lineplot(data=band_frame(bands), x="k", y="E", units="band", estimator=None,
                 sort=False, color="#2F4FE8", lw=0.9, alpha=0.75, ax=ax, legend=False)
    for k in K_POS[2:-1:2]:
        ax.axvline(k, color="#555555", ls=(0, (4, 3)), lw=0.9, zorder=0)
    ax.axhline(0, color="#FF66CC", ls=":", lw=0.9)
    ax.set_xlim(0, K_POS[-1]); ax.set_ylim(*ylim)
    ax.set_xticks(K_POS[::2]); ax.set_xticklabels(labels)
    ax.set_yticks([-4, -2, 0, 2, 4])
    ax.tick_params(axis="x", length=0, labelsize=5.5, pad=3)
    ax.tick_params(axis="y", direction="in", length=3, width=0.6, labelsize=5.5, right=True, pad=3)
    plt.setp(ax.get_xticklabels() + ax.get_yticklabels(), family="DejaVu Sans")
    for sp in ax.spines.values():
        sp.set_linewidth(0.7); sp.set_color("#222222")
    ax.set_xlabel("Wave vector_K", fontsize=6, family="DejaVu Sans", labelpad=1)
    ax.set_ylabel("Energy (eV)", fontsize=6, family="DejaVu Sans", labelpad=4)
    return ax


# ---------- a) iodide ----------
dos_panel(rect(38, 37, 303, 244),
          [("Sn-(s)", A_SNS), ("Sn-(p)", A_SNP), ("N-(s)", A_NS), ("Pb-(p)", A_PBP),
           ("Pb-(s)", A_PBS), ("C-(p)", A_CP), ("C-(s)", A_CS), ("H-(s)", A_HS),
           ("I-(p)", A_IP), ("I-(s)", A_IS), ("Ge-(s)", A_GES), ("Ge-(p)", A_GEP),
           ("N-(p)", A_NP)],
          (-4.42, 4.45), (0, 45.5), 10, 5, 0.976, 6)
inset_panel(rect(132, 42, 233, 102),
            [("Sn-(s)", A_SNS), ("Sn-(p)", A_SNP), ("Ge-(s)", A_GES), ("Ge-(p)", A_GEP),
             ("Pb-(p)", A_PBP), ("Pb-(s)", A_PBS)], (0, 3.5), 1, False)
band_panel(rect(393, 33, 656, 237), BAND_A, (-5.0, 4.4), K_LABELS)

# ---------- b) bromide ----------
dos_panel(rect(38, 334, 302, 531),
          [("Pb-(p)", B_PBP), ("Pb-(s)", B_PBS), ("Br-(p)", B_BRP), ("Br-(s)", B_BRS),
           ("C-(p)", B_CP), ("C-(s)", B_CS), ("H-(s)", B_HS), ("N-(p)", B_NP),
           ("Ge-(s)", B_GES), ("Ge-(p)", B_GEP), ("Sn-(s)", B_SNS), ("Sn-(p)", B_SNP),
           ("N-(s)", B_NS)],
          (-4.5, 4.48), (0, 50), 10, 5, 0.985, -1)
inset_panel(rect(116, 338, 243, 416),
            [("Pb-(p)", B_PBP), ("Pb-(s)", B_PBS), ("Ge-(s)", B_GES), ("Ge-(p)", B_GEP),
             ("Sn-(s)", B_SNS), ("Sn-(p)", B_SNP)], (0, 3.5), 1, False)
band_panel(rect(393, 328, 656, 532), BAND_B, (-4.7, 4.9), K_LABELS)

# ---------- c) chloride ----------
dos_panel(rect(38, 620, 302, 827),
          [("N-(s)", C_NS), ("Pb-(p)", C_PBP), ("Pb-(s)", C_PBS), ("C-(p)", C_CP),
           ("C-(s)", C_CS), ("Cl-(p)", C_CLP), ("Cl-(s)", C_CLS), ("H-(s)", C_HS),
           ("Ge-(s)", C_GES), ("Ge-(p)", C_GEP), ("Sn-(s)", C_SNS), ("Sn-(p)", C_SNP),
           ("N-(p)", C_NP)],
          (-4.43, 4.42), (0, 52.5), 5, 2.5, 0.985, 0)
inset_panel(rect(114, 622, 229, 691),
            [("Ge-(s)", C_GES), ("Ge-(p)", C_GEP), ("Sn-(s)", C_SNS), ("Sn-(p)", C_SNP),
             ("Pb-(p)", C_PBP), ("Pb-(s)", C_PBS)], (0, 3.75), 0.5, True)
band_panel(rect(393, 613, 656, 823), BAND_C, (-4.8, 5.8), K_LABELS[:-1] + [""])

# ---------- titles ----------
title_kw = dict(ha="center", va="center", family="Liberation Serif", fontweight="bold", fontsize=12.5)
fig.text(145 / W, 1 - 14 / H, r"a)  FAPb$_{0.5}$Sn$_{0.25}$Ge$_{0.25}$I$_{3}$", **title_kw)
fig.text(160 / W, 1 - 317 / H, r"b)  FAPb$_{0.5}$Sn$_{0.25}$Ge$_{0.25}$Br$_{3}$", **title_kw)
fig.text(158 / W, 1 - 597 / H, r"c) FAPb$_{0.5}$Sn$_{0.25}$Ge$_{0.25}$Cl$_{3}$", **title_kw)

fig.savefig("out.png", dpi=100)
